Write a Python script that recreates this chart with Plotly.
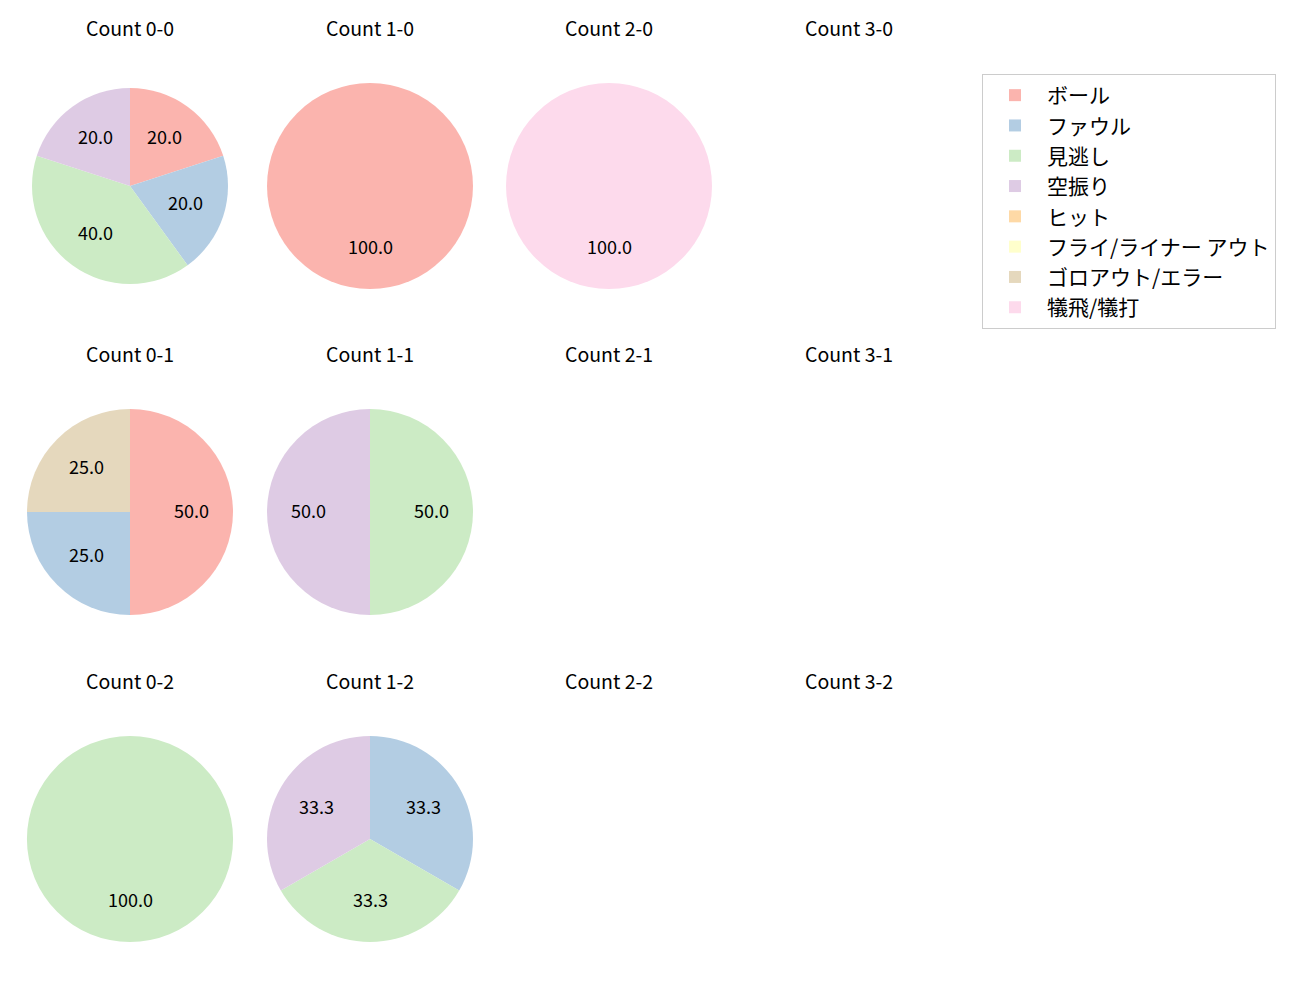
import math
import plotly.graph_objects as go

labels = ["ボール", "ファウル", "見逃し", "空振り", "ヒット", "フライ/ライナー アウト", "ゴロアウト/エラー", "犠飛/犠打"]
colors = ["#fbb4ae", "#b3cde3", "#ccebc5", "#decbe4", "#fed9a6", "#ffffcc", "#e5d8bd", "#fddaec"]

balls = [0, 1, 2, 3]
strikes = [0, 1, 2]

# counts per pitch-count situation (order follows labels)
counts = {
    (0, 0): [1, 1, 2, 1, 0, 0, 0, 0],
    (1, 0): [1, 0, 0, 0, 0, 0, 0, 0],
    (2, 0): [0, 0, 0, 0, 0, 0, 0, 1],
    (0, 1): [2, 1, 0, 0, 0, 0, 1, 0],
    (1, 1): [0, 0, 1, 1, 0, 0, 0, 0],
    (0, 2): [0, 0, 1, 0, 0, 0, 0, 0],
    (1, 2): [0, 1, 1, 1, 0, 0, 0, 0],
}

W, H = 1300, 1000
col_cx = [130, 370, 609, 849]
row_cy = [186, 512, 839]
R = 103

fig = go.Figure()
annotations = []
first = True
for s in strikes:
    for b in balls:
        cx, cy = col_cx[b], row_cy[s]
        annotations.append(dict(
            x=cx / W, y=1 - (cy - 159) / H, xref="paper", yref="paper",
            text=f"Count {b}-{s}", showarrow=False, xanchor="center", yanchor="middle",
            font=dict(size=19.5, color="#000")))
        vals = counts.get((b, s))
        if vals is None:
            continue
        r = 98 if (b, s) == (0, 0) else R
        total = sum(vals)
        fig.add_trace(go.Pie(
            labels=labels, values=vals, sort=False, direction="clockwise", rotation=0,
            marker=dict(colors=colors, line=dict(color="white", width=0)),
            textinfo="none", hoverinfo="label+percent",
            domain=dict(x=[(cx - r) / W, (cx + r) / W], y=[1 - (cy + r) / H, 1 - (cy - r) / H]),
            showlegend=first,
        ))
        first = False
        cum = 0.0
        for v in vals:
            if v == 0:
                continue
            frac = v / total
            th = 2 * math.pi * (cum + frac / 2)
            cum += frac
            tx = cx + 0.6 * r * math.sin(th)
            ty = cy - 0.6 * r * math.cos(th) - 2
            annotations.append(dict(
                x=tx / W, y=1 - ty / H, xref="paper", yref="paper",
                text=f"{frac * 100:.1f}", showarrow=False, xanchor="center", yanchor="middle",
                font=dict(size=18, color="#000")))

fig.update_layout(
    width=W, height=H,
    margin=dict(l=0, r=0, t=0, b=0),
    paper_bgcolor="white", plot_bgcolor="white",
    font=dict(family="Noto Sans CJK JP, Noto Sans, sans-serif", color="#000"),
    annotations=annotations,
    legend=dict(
        x=982 / W, y=1 - 74 / H, xanchor="left", yanchor="top",
        bordercolor="#cccccc", borderwidth=1, bgcolor="white",
        font=dict(size=21, color="#000"), traceorder="normal",
        itemwidth=54,
    ),
)

fig.write_html("out.html")
